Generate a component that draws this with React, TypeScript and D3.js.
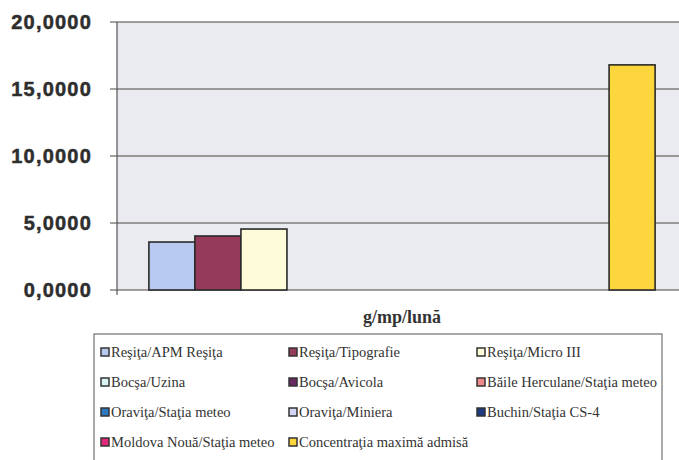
import React from "react";
import * as d3 from "d3";

// chart data
const categories = ["g/mp/lună"];
const seriesNames = [
  "Reşiţa/APM Reşiţa",
  "Reşiţa/Tipografie",
  "Reşiţa/Micro III",
  "Bocşa/Uzina",
  "Bocşa/Avicola",
  "Băile Herculane/Staţia meteo",
  "Oraviţa/Staţia meteo",
  "Oraviţa/Miniera",
  "Buchin/Staţia CS-4",
  "Moldova Nouă/Staţia meteo",
  "Concentraţia maximă admisă",
];
const seriesValues = [3.58, 4.03, 4.55, 0, 0, 0, 0, 0, 0, 0, 16.8];
const seriesColors = [
  "#b7c9ef",
  "#963a5c",
  "#fefbd8",
  "#d8f4f4",
  "#6a2860",
  "#f08a8a",
  "#2f78c0",
  "#d4d4f4",
  "#1f3a80",
  "#e0287a",
  "#fcd63c",
];
const yTicks = [0, 5, 10, 15, 20];

const W = 679;
const H = 460;
const plot = { left: 117, right: 687, top: 22, bottom: 290 };

const fmt = (v: number) => v.toFixed(4).replace(".", ",");
const serif = { fontFamily: "'Times New Roman', 'Liberation Serif', 'DejaVu Serif', serif" };
const sans = { fontFamily: "'Liberation Sans', Arial, sans-serif" };

export default function App() {
  const y = d3.scaleLinear().domain([0, 20]).range([plot.bottom, plot.top]);
  const x0 = d3
    .scaleBand()
    .domain(categories)
    .range([plot.left, plot.right])
    .paddingInner(0)
    .paddingOuter(0.063);
  const x1 = d3
    .scaleBand()
    .domain(seriesNames)
    .range([0, x0.bandwidth()])
    .padding(0);

  const legendCols = [101, 289, 477];
  const legendRows = [352, 382, 412, 442];

  return (
    <div style={{ position: "absolute", left: 0, top: 0 }}>
      <svg width={W} height={H} style={{ display: "block", background: "#fff" }}>
        <rect
          x={plot.left}
          y={plot.top}
          width={plot.right - plot.left}
          height={plot.bottom - plot.top}
          fill="#e9ebf0"
        />
        {yTicks.map((t) => (
          <g key={t}>
            <line
              x1={plot.left - 7}
              x2={plot.right}
              y1={y(t)}
              y2={y(t)}
              stroke="#4a4540"
              strokeWidth={1}
            />
            <text
              x={92}
              y={y(t)}
              dy="0.35em"
              textAnchor="end"
              style={sans}
              fontWeight="bold"
              fontSize={20}
              letterSpacing={1.2}
              fill="#2e2e2e"
              stroke="#2e2e2e"
              strokeWidth={0.5}
            >
              {fmt(t)}
            </text>
          </g>
        ))}
        <line
          x1={plot.left}
          x2={plot.left}
          y1={plot.top}
          y2={plot.bottom + 5}
          stroke="#555"
          strokeWidth={1.2}
        />
        {categories.map((c) => (
          <g key={c} transform={`translate(${x0(c)},0)`}>
            {seriesNames.map((s, i) =>
              seriesValues[i] > 0 ? (
                <rect
                  key={s}
                  x={x1(s)}
                  y={y(seriesValues[i])}
                  width={x1.bandwidth()}
                  height={y(0) - y(seriesValues[i])}
                  fill={seriesColors[i]}
                  stroke="#2a2a2a"
                  strokeWidth={1.6}
                />
              ) : null
            )}
          </g>
        ))}
        <text
          x={(plot.left + plot.right) / 2}
          y={323}
          textAnchor="middle"
          style={serif}
          fontWeight="bold"
          fontSize={18}
          fill="#333"
        >
          {categories[0]}
        </text>
        <rect x={94} y={334} width={568} height={140} fill="#fff" stroke="#555" strokeWidth={1} />
        {seriesNames.map((s, i) => {
          const cx = legendCols[i % 3];
          const cy = legendRows[Math.floor(i / 3)];
          return (
            <g key={s}>
              <rect
                x={cx}
                y={cy - 4}
                width={8}
                height={8}
                fill={seriesColors[i]}
                stroke="#333"
                strokeWidth={1.5}
              />
              <text
                x={cx + 10}
                y={cy}
                dy="0.35em"
                style={serif}
                fontSize={14.5}
                fill="#333"
              >
                {s}
              </text>
            </g>
          );
        })}
      </svg>
    </div>
  );
}
